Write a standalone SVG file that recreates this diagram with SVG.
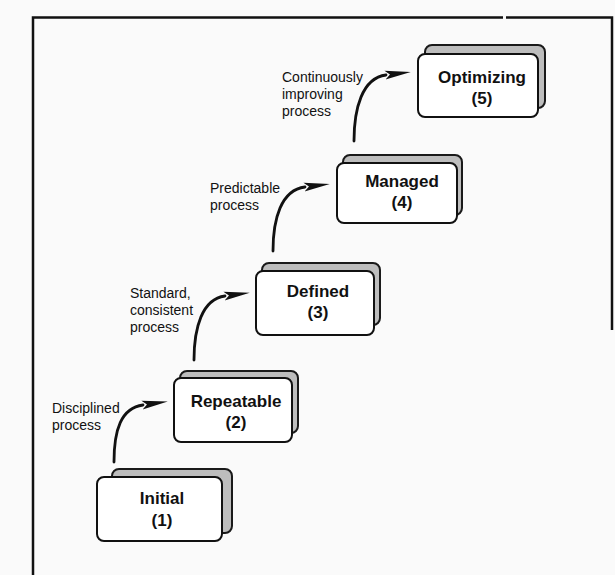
<svg xmlns="http://www.w3.org/2000/svg" width="615" height="575" viewBox="0 0 615 575">
<style>
.frame{fill:none;stroke:#111;stroke-width:2.5}
.shadow{fill:#bdbdbd;stroke:#1a1a1a;stroke-width:2}
.front{fill:#fff;stroke:#111;stroke-width:2}
.title{font-family:"Liberation Sans",Arial,sans-serif;font-weight:bold;font-size:17px;fill:#111;text-anchor:middle}
.lbl{font-family:"Liberation Sans",Arial,sans-serif;font-size:14px;fill:#111}
.arrow{fill:none;stroke:#111;stroke-width:2.8;stroke-linecap:round}
</style>
<defs>
<marker id="head" viewBox="0 0 26 11" refX="1" refY="5.5" markerWidth="26" markerHeight="11" markerUnits="userSpaceOnUse" orient="auto">
<path d="M0,1 L26,5.5 L0,10 L5,5.5 z" fill="#111"/>
</marker>
</defs>
<rect x="0" y="0" width="615" height="575" fill="#fafafa"/>
<g id="frame">
<path class="frame" d="M33,575 V17.5 H503 M506,17.5 H612 V330"/>
</g>
<g id="connectors">
<path class="arrow" marker-end="url(#head)" d="M114,462 C114,430 121,408 143,405"/>
<path class="arrow" marker-end="url(#head)" d="M194,360 C194,328 202,299 225,296"/>
<path class="arrow" marker-end="url(#head)" d="M273,251 C273,219 281,190 305,187"/>
<path class="arrow" marker-end="url(#head)" d="M354,141 C354,109 362,78 386,75"/>
</g>
<g id="initial">
<rect class="shadow" x="112" y="469" width="120" height="64" rx="7"/>
<rect class="front" x="97" y="477" width="125" height="64" rx="7"/>
<text class="title" x="162" y="504">Initial</text>
<text class="title" x="162" y="526">(1)</text>
</g>
<g id="repeatable">
<rect class="shadow" x="180" y="371" width="118" height="62" rx="7"/>
<rect class="front" x="174" y="378" width="118" height="64" rx="7"/>
<text class="title" x="236" y="407">Repeatable</text>
<text class="title" x="236" y="428">(2)</text>
</g>
<g id="defined">
<rect class="shadow" x="262" y="263" width="118" height="62" rx="7"/>
<rect class="front" x="256" y="271" width="118" height="64" rx="7"/>
<text class="title" x="318" y="297">Defined</text>
<text class="title" x="318" y="318">(3)</text>
</g>
<g id="managed">
<rect class="shadow" x="343" y="155" width="119" height="60" rx="7"/>
<rect class="front" x="337" y="163" width="120" height="60" rx="7"/>
<text class="title" x="402" y="187">Managed</text>
<text class="title" x="402" y="208">(4)</text>
</g>
<g id="optimizing">
<rect class="shadow" x="425" y="45" width="120" height="63" rx="7"/>
<rect class="front" x="418" y="54" width="120" height="63" rx="7"/>
<text class="title" x="482" y="83">Optimizing</text>
<text class="title" x="482" y="104">(5)</text>
</g>
<g id="labels">
<text class="lbl" x="52" y="413">Disciplined</text>
<text class="lbl" x="52" y="430">process</text>
<text class="lbl" x="130" y="298">Standard,</text>
<text class="lbl" x="130" y="315">consistent</text>
<text class="lbl" x="130" y="332">process</text>
<text class="lbl" x="210" y="193">Predictable</text>
<text class="lbl" x="210" y="210">process</text>
<text class="lbl" x="282" y="82">Continuously</text>
<text class="lbl" x="282" y="99">improving</text>
<text class="lbl" x="282" y="116">process</text>
</g>
</svg>
